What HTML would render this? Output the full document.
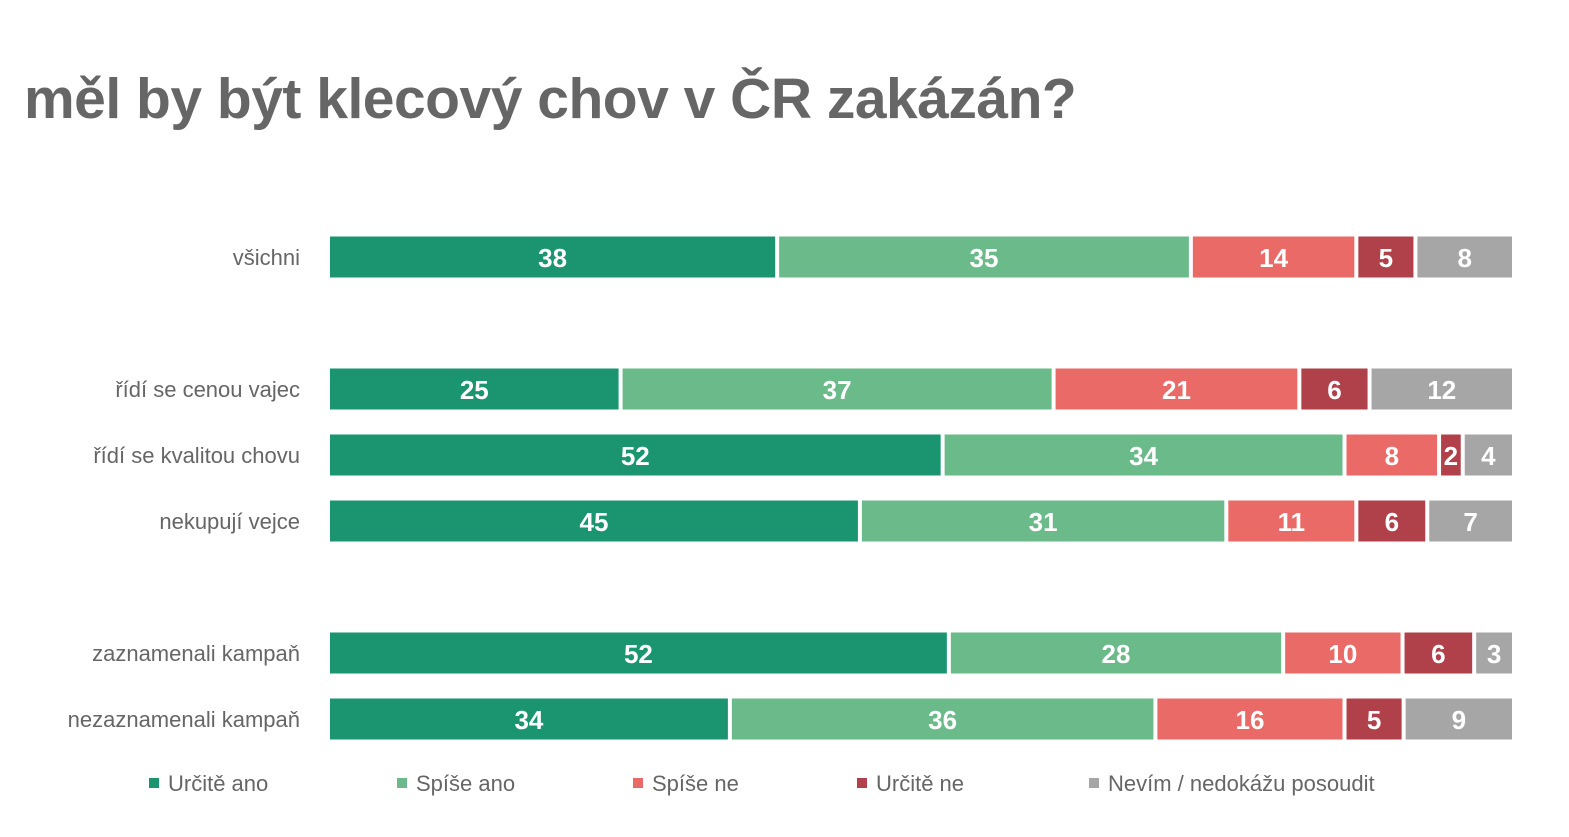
<!DOCTYPE html>
<html><head><meta charset="utf-8">
<style>
body{margin:0;background:#fff;width:1569px;height:837px;overflow:hidden;font-family:"Liberation Sans",sans-serif;}
#title{position:absolute;left:24px;top:66px;font-size:57px;font-weight:bold;color:#666;letter-spacing:-0.5px;white-space:nowrap;}
</style></head><body>
<div id="title">měl by být klecový chov v ČR zakázán?</div>
<svg id="chart" width="1569" height="837" style="position:absolute;left:0;top:0"></svg>
<script>
const categories=["všichni","řídí se cenou vajec","řídí se kvalitou chovu","nekupují vejce","zaznamenali kampaň","nezaznamenali kampaň"];
const seriesNames=["Určitě ano","Spíše ano","Spíše ne","Určitě ne","Nevím / nedokážu posoudit"];
const urciteAno=[38,25,52,45,52,34];
const spiseAno=[35,37,34,31,28,36];
const spiseNe=[14,21,8,11,10,16];
const urciteNe=[5,6,2,6,6,5];
const nevim=[8,12,4,7,3,9];
const series=[urciteAno,spiseAno,spiseNe,urciteNe,nevim];
const colors=["#1a9570","#6aba8a","#e96a67","#b0404a","#a6a6a6"];
const rowY=[257,389,455,521,653,719];
const x0=330,x1=1512,bh=41;
const svg=document.getElementById('chart');
const NS="http://www.w3.org/2000/svg";
function mk(t,a){const e=document.createElementNS(NS,t);for(const k in a)e.setAttribute(k,a[k]);svg.appendChild(e);return e;}
categories.forEach((c,i)=>{
  const lab=mk('text',{x:300,y:rowY[i]+8,'text-anchor':'end','font-size':22,fill:'#666'});
  lab.textContent=c;
  
  
  const tot=series.reduce((s,a)=>s+a[i],0);
  let acc=0;
  series.forEach((arr,j)=>{
    const v=arr[i];
    const xa=x0+(x1-x0)*acc/tot, xb=x0+(x1-x0)*(acc+v)/tot;
    acc+=v;
    const r=mk('rect',{x:xa,y:rowY[i]-bh/2,width:Math.max(0,xb-xa-(j<4?4:0)),height:bh,fill:colors[j]});
    
    
    const t=mk('text',{x:(xa+xb-(j<4?4:0))/2,y:rowY[i]+10,'text-anchor':'middle','font-size':26,'font-weight':'bold',fill:'#fff'});
    t.textContent=v;
    
    
  });
});
const legX=[149,397,633,857,1089];
seriesNames.forEach((n,j)=>{
  const r=mk('rect',{x:legX[j],y:778,width:10,height:10,fill:colors[j]});
  
  
  const t=mk('text',{x:legX[j]+19,y:791,'font-size':22,fill:'#666'});
  t.textContent=n;
  
  
});
</script>
</body></html>
